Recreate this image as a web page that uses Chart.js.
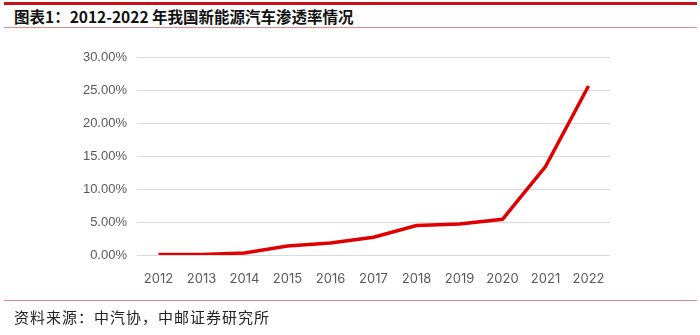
<!DOCTYPE html>
<html>
<head>
<meta charset="utf-8">
<script src="https://cdn.jsdelivr.net/npm/chart.js@4/dist/chart.umd.min.js"></script>
<style>
  html, body { margin: 0; padding: 0; background: #fff; }
  #wrap { position: relative; width: 700px; height: 335px; overflow: hidden; }
  .rule { position: absolute; left: 4px; width: 693px; }
  #topRule { top: 2px; height: 3px; background: #c8101a; }
  #titleRule { top: 27px; height: 1px; background: #e38a8e; }
  #footRule { top: 300px; height: 1px; background: #e38a8e; }
  #title { position: absolute; left: 14px; top: 5px; font: bold 15.5px "Noto Sans CJK SC", sans-serif; color: #111; white-space: nowrap; }
  #source { position: absolute; left: 14px; top: 306px; font: 15px "Noto Sans CJK SC", sans-serif; letter-spacing: 1px; color: #222; white-space: nowrap; }
  #chartBox { position: absolute; left: 0; top: 0; width: 700px; height: 335px; }
</style>
</head>
<body>
<div id="wrap">
  <div class="rule" id="topRule"></div>
  <div id="title">图表1：2012-2022 年我国新能源汽车渗透率情况</div>
  <div class="rule" id="titleRule"></div>
  <div id="chartBox"><canvas id="c" width="700" height="335"></canvas></div>
  <div class="rule" id="footRule"></div>
  <div id="source">资料来源：中汽协，中邮证券研究所</div>
</div>
<script>
// NEV penetration rate in China, percent of new vehicle sales
const years = ['2012', '2013', '2014', '2015', '2016', '2017', '2018', '2019', '2020', '2021', '2022'];
const penetration = [0.08, 0.08, 0.32, 1.35, 1.81, 2.69, 4.47, 4.68, 5.40, 13.40, 25.60];
const yTicks = [0, 5, 10, 15, 20, 25, 30];

new Chart(document.getElementById('c'), {
  type: 'line',
  data: {
    labels: years,
    datasets: [{
      data: penetration,
      borderColor: '#e00000',
      borderWidth: 3.5,
      pointRadius: 0,
      tension: 0,
      fill: false
    }]
  },
  options: {
    responsive: false,
    animation: false,
    layout: { padding: { left: 0, right: 90, top: 57, bottom: 50 } },
    plugins: { legend: { display: false }, tooltip: { enabled: false } },
    scales: {
      x: {
        offset: true,
        grid: { display: false },
        border: { display: false },
        ticks: { color: '#595959', font: { family: 'Inter, "Liberation Sans", sans-serif', size: 13 }, padding: 8, maxRotation: 0 },
        afterFit: s => { s.height = 30; }
      },
      y: {
        min: 0,
        max: 30,
        afterBuildTicks: s => { s.ticks = yTicks.map(v => ({ value: v })); },
        grid: { color: '#d9d9d9', lineWidth: 1, drawTicks: false },
        border: { display: false },
        ticks: {
          color: '#595959',
          font: { family: '"Liberation Sans", sans-serif', size: 13 },
          padding: 10,
          callback: v => v.toFixed(2) + '%'
        },
        afterFit: s => { s.width = 137; }
      }
    }
  }
});
</script>
</body>
</html>
